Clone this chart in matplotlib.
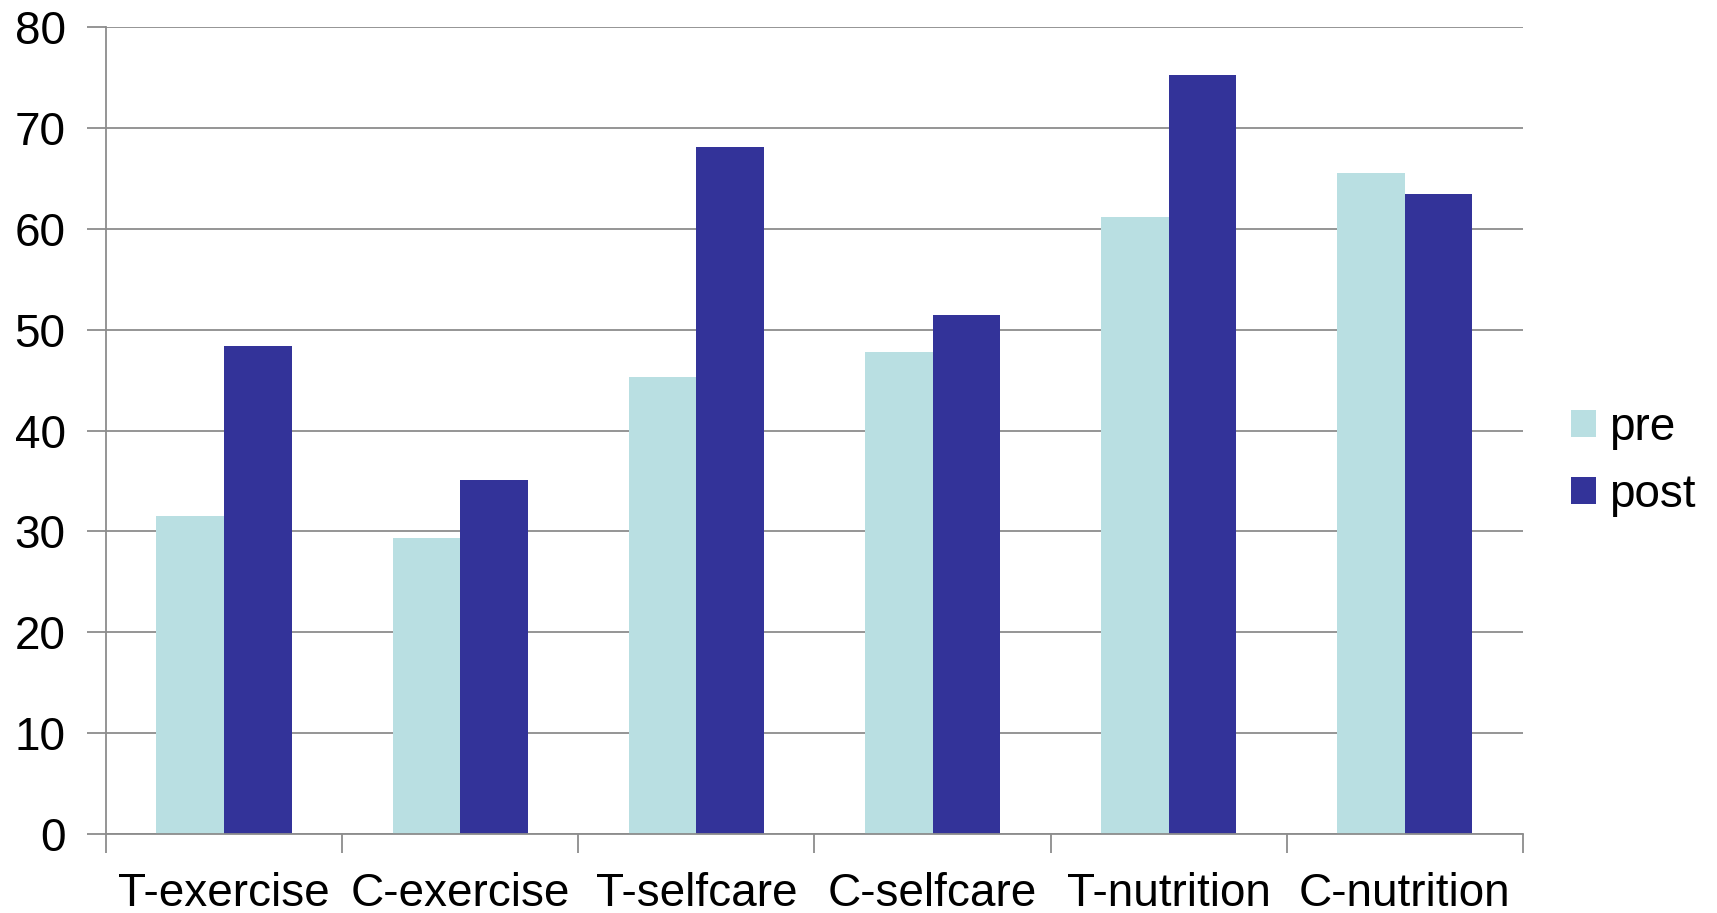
import matplotlib
import matplotlib.pyplot as plt
import numpy as np

matplotlib.use("Agg")

categories = ["T-exercise", "C-exercise", "T-selfcare", "C-selfcare", "T-nutrition", "C-nutrition"]
pre = [31.5, 29.3, 45.3, 47.8, 61.2, 65.5]
post = [48.4, 35.1, 68.1, 51.5, 75.2, 63.4]
y_ticks = [0, 10, 20, 30, 40, 50, 60, 70, 80]

plt.rcParams["font.family"] = ["Liberation Sans", "DejaVu Sans"]

fig = plt.figure(figsize=(17.17, 9.13), dpi=100)
ax = fig.add_axes([0.0617, 0.0865, 0.8253, 0.8839])

x = np.arange(len(categories))
width = 0.286
ax.bar(x - width / 2, pre, width, color="#B9DFE2", label="pre")
ax.bar(x + width / 2, post, width, color="#333399", label="post")

ax.set_xlim(-0.5, len(categories) - 0.5)
ax.set_ylim(0, 80)
ax.set_yticks(y_ticks)
ax.set_axisbelow(True)
ax.yaxis.grid(True, color="#8c8c8c", linewidth=1.3)

# labels sit at category centres, tick marks at the boundaries
ax.set_xticks(x)
ax.set_xticklabels(categories)
ax.set_xticks(np.arange(len(categories) + 1) - 0.5, minor=True)
ax.tick_params(axis="x", which="major", length=0, pad=27, labelsize=33)
ax.tick_params(axis="x", which="minor", length=14, width=1.3, color="#8c8c8c", direction="out")
ax.tick_params(axis="y", length=14, width=1.3, color="#8c8c8c", pad=15, labelsize=33)

for side in ("top", "right"):
    ax.spines[side].set_visible(False)
for side in ("left", "bottom"):
    ax.spines[side].set_color("#8c8c8c")
    ax.spines[side].set_linewidth(1.3)

fig.legend(loc="center left", bbox_to_anchor=(0.915, 0.495), frameon=False, fontsize=33,
           borderpad=0, borderaxespad=0,
           handlelength=0.55, handleheight=0.55, handletextpad=0.27, labelspacing=0.5)

fig.savefig("out.png", dpi=100)
